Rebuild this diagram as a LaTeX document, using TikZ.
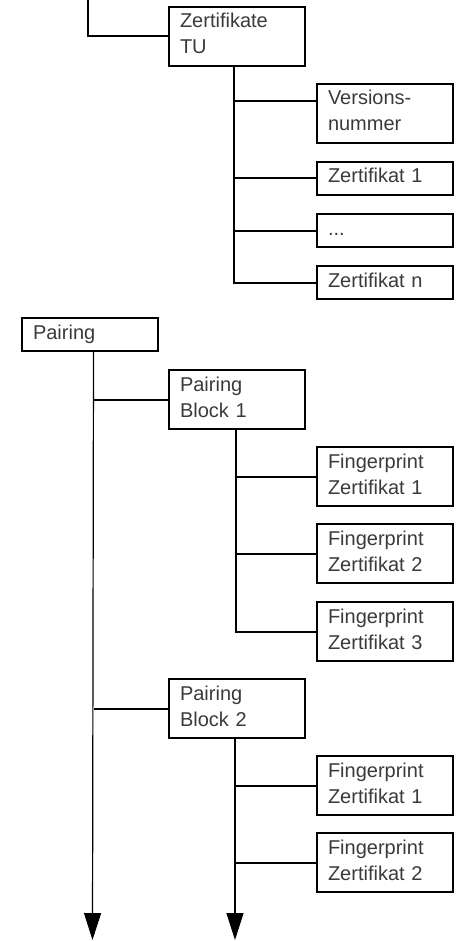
\documentclass[tikz,border=0pt]{standalone}
\usepackage{fontspec}
\setmainfont{Liberation Sans}
\usetikzlibrary{arrows.meta}
\definecolor{boxtext}{HTML}{3A3A3A}

\begin{document}
\begin{tikzpicture}[x=1pt,y=-1pt,
  box/.style={draw,line width=2pt,anchor=north west,align=left,text width=114pt,inner xsep=11pt,inner ysep=0pt,
    text height=21pt,text depth=12pt,font=\fontsize{20}{26}\selectfont,text=boxtext},
  tallbox/.style={box,text depth=38pt},
  link/.style={line width=2pt},
  trunk/.style={line width=1.2pt,-{Triangle[width=17pt,length=27pt]}}]
\useasboundingbox (0,0) rectangle (458,941);
\node[tallbox] (tu) at (168,6) {Zertifikate\\TU};
\node[tallbox] (vn) at (316,83) {Versions-\\nummer};
\node[box] (z1) at (316,161) {Zertifikat 1};
\node[box] (zd) at (316,213) {...};
\node[box] (zn) at (316,265) {Zertifikat n};
\node[box] (pair) at (21,317) {Pairing};
\node[tallbox] (pb1) at (168,369) {Pairing\\Block 1};
\node[tallbox] (fa1) at (316,446) {Fingerprint\\Zertifikat 1};
\node[tallbox] (fa2) at (316,523) {Fingerprint\\Zertifikat 2};
\node[tallbox] (fa3) at (316,601) {Fingerprint\\Zertifikat 3};
\node[tallbox] (pb2) at (168,678) {Pairing\\Block 2};
\node[tallbox] (fb1) at (316,755) {Fingerprint\\Zertifikat 1};
\node[tallbox] (fb2) at (316,832) {Fingerprint\\Zertifikat 2};
\coordinate (top) at (88,0);
\coordinate (tut) at ([xshift=-3pt]tu.south);
\coordinate (vnin) at ([yshift=12pt]vn.west);
\coordinate (pt) at ([xshift=3.5pt]pair.south);
\coordinate (pend) at (92.5,940);
\coordinate (b1t) at ([xshift=-1.5pt]pb1.south);
\coordinate (b2t) at ([xshift=-2pt]pb2.south);
\coordinate (b2end) at (b2t |- pend);
\draw[link] (top) |- (tu.west);
\draw[link] (tut) |- (zn.west);
\draw[link] (vnin) -- (vnin -| tut);
\draw[link] (z1.west) -- (z1.west -| tut);
\draw[link] (zd.west) -- (zd.west -| tut);
\draw[trunk] (pt) -- (pend);
\draw[link] (pb1.west) -- (pb1.west -| pt);
\draw[link] (pb2.west) -- (pb2.west -| pt);
\draw[link] (b1t) |- (fa3.west);
\draw[link] (fa1.west) -- (fa1.west -| b1t);
\draw[link] (fa2.west) -- (fa2.west -| b1t);
\draw[trunk] (b2t) -- (b2end);
\draw[link] (fb1.west) -- (fb1.west -| b2t);
\draw[link] (fb2.west) -- (fb2.west -| b2t);
\end{tikzpicture}
\end{document}
